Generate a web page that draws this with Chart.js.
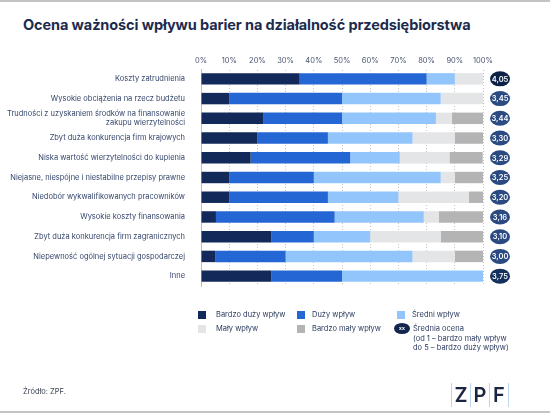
<!DOCTYPE html>
<html>
<head>
<meta charset="utf-8">
<script src="https://cdn.jsdelivr.net/npm/chart.js@4"></script>
<style>
  body { margin: 0; background: #fff; font-family: Inter, "Noto Sans", sans-serif; }
  #wrap { position: relative; width: 550px; height: 413px; overflow: hidden;
          border-top: 2px solid #c4c4c4; border-bottom: 2px solid #c4c4c4; box-sizing: border-box; }
  #chart { position: absolute; left: 0; top: 0; }
  h1 { position: absolute; left: 23px; top: 14px; margin: 0; font-size: 14.5px; font-weight: 700;
       color: #1c2b4d; white-space: nowrap; letter-spacing: -0.1px; }
  .leg { position: absolute; font-size: 7.5px; color: #2c3b5e; line-height: 9.5px; }
  .sw { position: absolute; width: 8px; height: 8px; }
  .badge { position: absolute; width: 16px; height: 11px; border-radius: 50%; background: #14264d;
           color: #fff; font-size: 5px; line-height: 11px; text-align: center; font-weight: 700; }
  #src { position: absolute; left: 23px; top: 385px; font-size: 7.5px; color: #3b4150; }
  #logo { position: absolute; left: 451px; top: 381px; height: 24px; display: flex; }
  #logo span { font-size: 20px; font-weight: 600; color: #1b2440; width: 18px; text-align: center;
               border-left: 1px solid #bcd6f0; line-height: 24px; }
  #logo span:last-child { border-right: 1px solid #bcd6f0; }
</style>
</head>
<body>
<div id="wrap">
  <h1>Ocena ważności wpływu barier na działalność przedsiębiorstwa</h1>
  <canvas id="chart" width="550" height="413"></canvas>

  <div class="sw" style="left:198px;top:309px;background:#13295a"></div>
  <div class="leg" style="left:216px;top:308px">Bardzo duży wpływ</div>
  <div class="sw" style="left:297px;top:309px;background:#2466d4"></div>
  <div class="leg" style="left:312px;top:308px">Duży wpływ</div>
  <div class="sw" style="left:397px;top:309px;background:#93c5fd"></div>
  <div class="leg" style="left:412px;top:308px">Średni wpływ</div>
  <div class="sw" style="left:198px;top:323px;background:#e4e5e7"></div>
  <div class="leg" style="left:216px;top:322px">Mały wpływ</div>
  <div class="sw" style="left:297px;top:323px;background:#b4b4b4"></div>
  <div class="leg" style="left:312px;top:322px">Bardzo mały wpływ</div>
  <div class="badge" style="left:394px;top:321px">xx</div>
  <div class="leg" style="left:413px;top:322px">Średnia ocena<br>(od 1 – bardzo mały wpływ<br>do 5 – bardzo duży wpływ)</div>

  <div id="src">Źródło: ZPF.</div>
  <div id="logo"><span>Z</span><span>P</span><span>F</span></div>
</div>
<script>
const categories = [
  'Koszty zatrudnienia',
  'Wysokie obciążenia na rzecz budżetu',
  ['Trudności z uzyskaniem środków na finansowanie', 'zakupu wierzytelności'],
  'Zbyt duża konkurencja firm krajowych',
  'Niska wartość wierzytelności do kupienia',
  'Niejasne, niespójne i niestabilne przepisy prawne',
  'Niedobór wykwalifikowanych pracowników',
  'Wysokie koszty finansowania',
  'Zbyt duża konkurencja firm zagranicznych',
  'Niepewność ogólnej sytuacji gospodarczej',
  'Inne'
];
const bardzoDuzy = [35, 10, 22.2, 20, 17.6, 10, 10, 5.3, 25, 5, 25];
const duzy       = [45, 40, 27.8, 25, 35.3, 30, 35, 42.1, 15, 25, 25];
const sredni     = [10, 35, 33.3, 30, 17.6, 45, 25, 31.6, 20, 45, 50];
const maly       = [10, 15, 5.6, 15, 17.6, 5, 25, 5.3, 25, 15, 0];
const bardzoMaly = [0, 0, 11.1, 10, 11.8, 10, 5, 15.8, 15, 10, 0];
const srednia    = ['4,05', '3,45', '3,44', '3,30', '3,29', '3,25', '3,20', '3,16', '3,10', '3,00', '3,75'];
const badgeColors = ['#0d2145', '#2b4a82', '#2b4a82', '#2b4a82', '#2b4a82', '#2b4a82', '#2b4a82', '#2b4a82', '#2b4a82', '#2b4a82', '#14305e'];

const badgePlugin = {
  id: 'badges',
  afterDatasetsDraw(chart) {
    const ctx = chart.ctx;
    const y = chart.scales.y;
    ctx.save();
    srednia.forEach((v, i) => {
      const cy = y.getPixelForValue(i);
      ctx.fillStyle = badgeColors[i];
      ctx.beginPath();
      ctx.ellipse(500, cy, 10, 7.5, 0, 0, Math.PI * 2);
      ctx.fill();
      ctx.fillStyle = '#fff';
      ctx.font = '600 7.5px Inter';
      ctx.textAlign = 'center';
      ctx.textBaseline = 'middle';
      ctx.fillText(v, 500, cy + 0.5);
    });
    ctx.restore();
  }
};

const mk = (label, data, color) => ({ label, data, backgroundColor: color, borderWidth: 0,
  barPercentage: 0.58, categoryPercentage: 1 });

new Chart(document.getElementById('chart'), {
  type: 'bar',
  data: {
    labels: categories,
    datasets: [
      mk('Bardzo duży wpływ', bardzoDuzy, '#13295a'),
      mk('Duży wpływ', duzy, '#2466d4'),
      mk('Średni wpływ', sredni, '#93c5fd'),
      mk('Mały wpływ', maly, '#e4e5e7'),
      mk('Bardzo mały wpływ', bardzoMaly, '#b4b4b4')
    ]
  },
  options: {
    indexAxis: 'y',
    responsive: false,
    animation: false,
    layout: { padding: { top: 49, right: 67, bottom: 129, left: 0 } },
    plugins: { legend: { display: false }, tooltip: { enabled: false } },
    scales: {
      x: {
        position: 'top',
        stacked: true,
        min: 0, max: 100,
        afterFit: (s) => { s.height = 18; },
        ticks: { stepSize: 10, padding: 4, color: '#4a5572', font: { size: 7.5, family: 'Inter' },
                 callback: (v) => v + '%' },
        grid: { color: '#c4c4c4', drawTicks: false, lineWidth: 1 },
        border: { display: true, color: 'rgba(0,0,0,0)', dash: [1, 2] }
      },
      y: {
        stacked: true,
        afterFit: (s) => { s.width = 201; },
        ticks: { autoSkip: false, padding: 8, color: '#34456a', font: { size: 7.5, family: 'Inter' } },
        grid: { display: false },
        border: { display: true, color: '#bdbdbd' }
      }
    }
  },
  plugins: [badgePlugin]
});
</script>
</body>
</html>
